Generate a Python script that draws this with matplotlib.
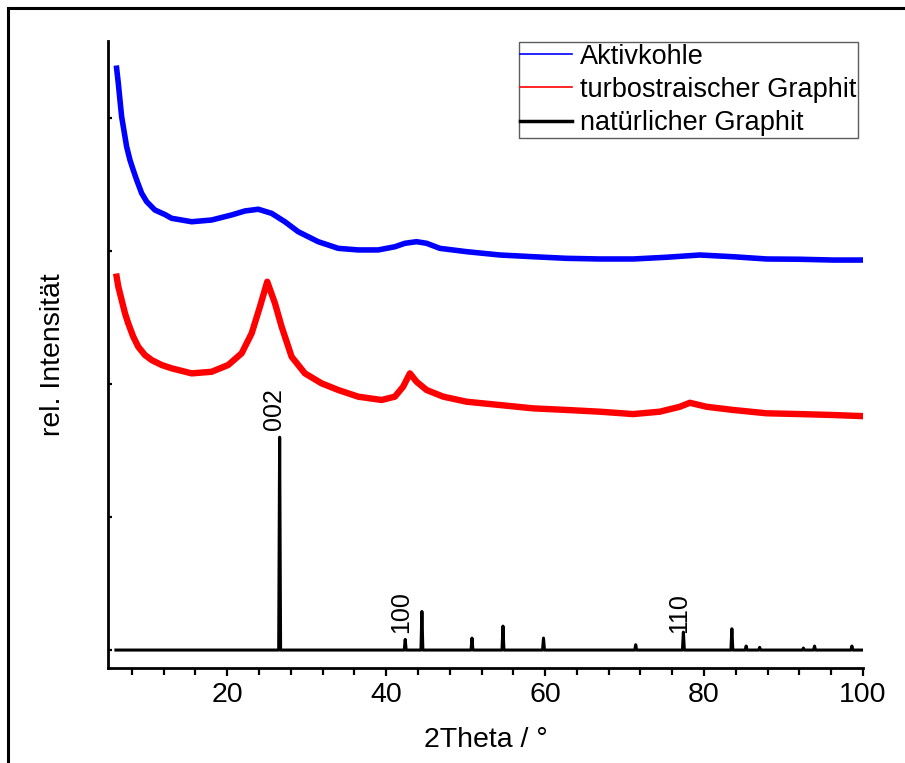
import numpy as np
import matplotlib
matplotlib.use("Agg")
import matplotlib.pyplot as plt
from matplotlib.lines import Line2D
from matplotlib.ticker import MultipleLocator, NullFormatter

plt.rcParams['font.family'] = ['Liberation Sans', 'DejaVu Sans']

# Aktivkohle (offset trace, top)
twotheta_ak = [6.09, 6.30, 6.51, 6.72, 6.93, 7.35, 7.77, 8.18, 8.61, 9.24,
               9.87, 10.91, 12.17, 13.01, 15.53, 18.04, 20.56,
               22.23, 23.91, 25.59, 27.26, 28.94, 31.45, 33.97, 36.48, 39.0, 41.1,
               42.36, 43.83, 45.09, 46.76, 50.12, 54.31, 58.5, 62.7, 66.89, 71.08,
               75.28, 79.47, 83.65, 87.86, 92.04, 96.23, 99.8]
int_ak = [4.374, 4.261, 4.135, 4.010, 3.935, 3.784, 3.684, 3.609, 3.534, 3.434,
          3.371, 3.308, 3.274, 3.246, 3.220, 3.233, 3.271,
          3.301, 3.314, 3.283, 3.220, 3.145, 3.070, 3.020, 3.008, 3.008, 3.032,
          3.058, 3.070, 3.058, 3.020, 2.995, 2.970, 2.957, 2.945, 2.940, 2.940,
          2.953, 2.970, 2.957, 2.940, 2.938, 2.932, 2.932]

# turbostratischer Graphit (offset trace, middle)
twotheta_tg = [6.09, 6.30, 6.72, 7.14, 7.55, 8.18, 8.81, 9.65, 10.50, 11.75,
               13.01, 15.53, 18.04, 20.13, 21.82,
               23.08, 24.12, 25.04, 26.01, 26.85, 28.11, 29.78, 31.88, 33.97, 36.48,
               39.43, 41.10, 42.14, 42.99, 43.83, 45.09, 47.18, 50.12, 54.31, 58.5,
               62.7, 66.89, 71.08, 74.43, 76.95, 78.21, 80.31, 83.65, 87.86, 92.04,
               96.23, 99.8]
int_tg = [2.807, 2.732, 2.632, 2.532, 2.456, 2.356, 2.280, 2.218, 2.180, 2.143,
          2.118, 2.080, 2.092, 2.143, 2.231,
          2.381, 2.581, 2.769, 2.607, 2.431, 2.205, 2.080, 2.005, 1.955, 1.905,
          1.880, 1.905, 1.980, 2.080, 2.017, 1.955, 1.905, 1.867, 1.842, 1.817,
          1.805, 1.792, 1.774, 1.792, 1.829, 1.859, 1.829, 1.805, 1.780, 1.774,
          1.767, 1.759]

# natuerlicher Graphit: reflex positions and heights above baseline
peak_pos = [26.6, 42.4, 44.5, 50.8, 54.7, 59.8, 71.4, 77.4, 83.5, 85.3, 87.0, 92.5, 93.9, 98.6]
peak_height = [1.60, 0.08, 0.29, 0.09, 0.18, 0.09, 0.04, 0.135, 0.16, 0.03, 0.02, 0.015, 0.03, 0.03]
ng_start, ng_end = 6.0, 100.0

# hkl labels
hkl_labels = ['002', '100', '110']
hkl_x = [25.9, 41.86, 76.82]
hkl_y = [1.654, 0.128, 0.128]

# build the stick pattern as one line (narrow triangles on a flat baseline)
w = 0.12
ng_x = [ng_start]
ng_y = [0.0]
for p, h in zip(peak_pos, peak_height):
    ng_x += [p - w, p, p + w]
    ng_y += [0.0, h, 0.0]
ng_x.append(ng_end)
ng_y.append(0.0)

fig = plt.figure(figsize=(9.05, 7.63), dpi=100)
ax = fig.add_axes([0.1193, 0.1245, 0.8343, 0.8218])

ax.plot(twotheta_ak, int_ak, color='#0000ff', lw=4.0, solid_joinstyle='round')
ax.plot(twotheta_tg, int_tg, color='#ff0000', lw=4.6, solid_joinstyle='round')
ax.plot(ng_x, ng_y, color='black', lw=2.2)

for lab, x, y in zip(hkl_labels, hkl_x, hkl_y):
    ax.text(x, y, lab, rotation=90, ha='center', va='bottom', fontsize=18)

ax.set_xlim(5, 100)
ax.set_ylim(-0.135, 4.579)

for side in ['top', 'right']:
    ax.spines[side].set_visible(False)
for side in ['left', 'bottom']:
    ax.spines[side].set_linewidth(2.0)

ax.xaxis.set_major_locator(MultipleLocator(20))
ax.xaxis.set_minor_locator(MultipleLocator(4))
ax.tick_params(axis='x', which='major', direction='out', length=6, width=1.6,
               labelsize=20.5, pad=4)
ax.tick_params(axis='x', which='minor', direction='out', length=5, width=1.6)
ax.yaxis.set_major_locator(MultipleLocator(1))
ax.yaxis.set_major_formatter(NullFormatter())
ax.tick_params(axis='y', which='major', direction='in', length=3, width=1.6)

ax.set_xlabel('2Theta / °', fontsize=20.5, labelpad=14)
ax.set_ylabel('rel. Intensität', fontsize=20.5)
ax.yaxis.set_label_coords(-0.056, 0.5)

handles = [Line2D([], [], color='#0000ff', lw=1.2),
           Line2D([], [], color='#ff0000', lw=1.2),
           Line2D([], [], color='black', lw=2.5)]
leg = ax.legend(handles, ['Aktivkohle', 'turbostraischer Graphit', 'natürlicher Graphit'],
                loc='upper right', bbox_to_anchor=(0.993, 0.998), borderaxespad=0,
                fontsize=19.5, frameon=True, fancybox=False, labelspacing=0.27,
                handlelength=1.9, handletextpad=0.3, borderpad=0.05)
leg.get_frame().set_edgecolor('#333333')
leg.get_frame().set_linewidth(1.0)

# page frame (top and left edges)
fig.add_artist(Line2D([8 / 905, 1.0], [1 - 8 / 763, 1 - 8 / 763], color='black', lw=2.2,
                      transform=fig.transFigure))
fig.add_artist(Line2D([8 / 905, 8 / 905], [0.0, 1 - 8 / 763], color='black', lw=2.2,
                      transform=fig.transFigure))

fig.savefig('out.png', dpi=100)
